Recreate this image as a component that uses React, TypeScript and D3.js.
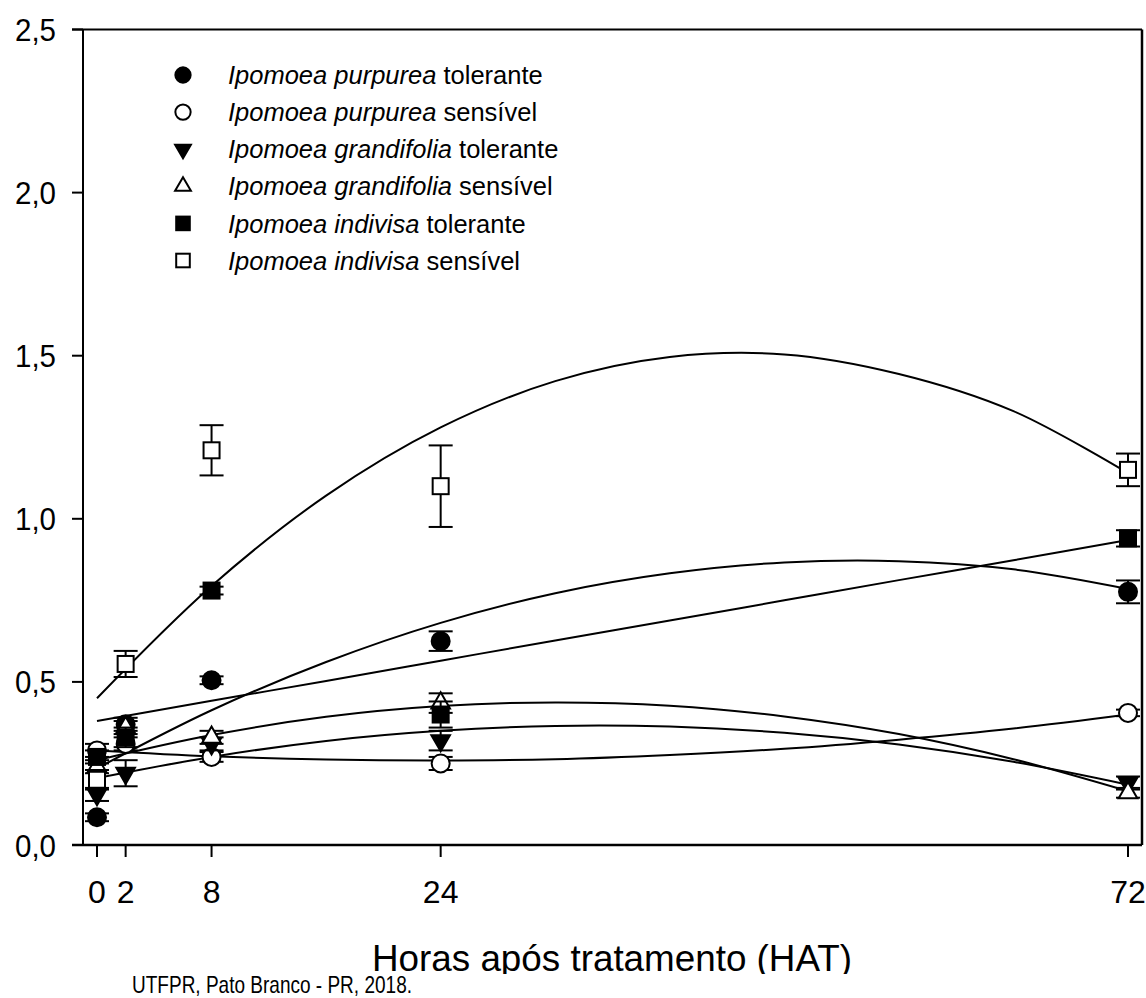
import React from 'react';
import * as d3 from 'd3';

const hours = [0, 2, 8, 24, 72];

const purpureaTol = [0.085, 0.37, 0.505, 0.625, 0.776];
const purpureaTolErr = [0.012, 0.02, 0.012, 0.03, 0.035];
const purpureaSens = [0.29, 0.31, 0.27, 0.25, 0.405];
const purpureaSensErr = [0.02, 0.02, 0.015, 0.02, 0.01];
const grandifoliaTol = [0.155, 0.22, 0.31, 0.32, 0.19];
const grandifoliaTolErr = [0.02, 0.04, 0.02, 0.03, 0.02];
const grandifoliaSens = [0.24, 0.36, 0.33, 0.435, 0.16];
const grandifoliaSensErr = [0.02, 0.02, 0.02, 0.03, 0.015];
const indivisaTol = [0.27, 0.33, 0.78, 0.40, 0.94];
const indivisaTolErr = [0.02, 0.03, 0.012, 0.04, 0.025];
const indivisaSens = [0.20, 0.555, 1.21, 1.10, 1.15];
const indivisaSensErr = [0.03, 0.04, 0.077, 0.125, 0.05];

// fitted regression curves
const curveHours = [0, 8, 16, 24, 32, 40, 48, 56, 64, 72];
const purpureaTolFit = [0.235, 0.413, 0.561, 0.681, 0.772, 0.833, 0.866, 0.87, 0.845, 0.785];
const purpureaSensFit = [0.29, 0.272, 0.262, 0.259, 0.263, 0.276, 0.295, 0.323, 0.357, 0.40];
const grandifoliaTolFit = [0.205, 0.27, 0.319, 0.35, 0.365, 0.363, 0.344, 0.308, 0.255, 0.185];
const grandifoliaSensFit = [0.26, 0.337, 0.393, 0.426, 0.437, 0.427, 0.394, 0.34, 0.263, 0.165];
const indivisaTolFit = [0.38, 0.442, 0.503, 0.565, 0.627, 0.688, 0.75, 0.812, 0.873, 0.935];
const indivisaSensFit = [0.45, 0.794, 1.071, 1.28, 1.422, 1.496, 1.504, 1.444, 1.33, 1.14];

const yTicks = [0, 0.5, 1.0, 1.5, 2.0, 2.5];
const xTicks = [0, 2, 8, 24, 72];

const legendNames = [
  ['Ipomoea purpurea', 'tolerante'],
  ['Ipomoea purpurea', 'sensível'],
  ['Ipomoea grandifolia', 'tolerante'],
  ['Ipomoea grandifolia', 'sensível'],
  ['Ipomoea indivisa', 'tolerante'],
  ['Ipomoea indivisa', 'sensível'],
];

const series = [
  { vals: purpureaTol, err: purpureaTolErr, fit: purpureaTolFit, shape: 'circle', filled: true },
  { vals: purpureaSens, err: purpureaSensErr, fit: purpureaSensFit, shape: 'circle', filled: false },
  { vals: grandifoliaTol, err: grandifoliaTolErr, fit: grandifoliaTolFit, shape: 'triDown', filled: true },
  { vals: grandifoliaSens, err: grandifoliaSensErr, fit: grandifoliaSensFit, shape: 'triUp', filled: false },
  { vals: indivisaTol, err: indivisaTolErr, fit: indivisaTolFit, shape: 'square', filled: true },
  { vals: indivisaSens, err: indivisaSensErr, fit: indivisaSensFit, shape: 'square', filled: false },
];

const FONT = '"Liberation Sans", Arial, sans-serif';

const Marker = ({ shape, filled, x, y, s = 1 }) => {
  const fill = filled ? '#000' : '#fff';
  const common = { fill, stroke: '#000', strokeWidth: 2 };
  if (shape === 'circle') return <circle cx={x} cy={y} r={9 * s} {...common} />;
  if (shape === 'square') return <rect x={x - 8 * s} y={y - 8 * s} width={16 * s} height={16 * s} {...common} />;
  const tri = d3.symbol().type(d3.symbolTriangle).size(150 * s * s)();
  return (
    <path d={tri} transform={`translate(${x},${y}) rotate(${shape === 'triDown' ? 180 : 0})`} {...common} />
  );
};

export default function App() {
  const x = d3.scaleLinear().domain([0, 72]).range([97, 1128]);
  const y = d3.scaleLinear().domain([0, 2.5]).range([845, 29.5]);
  const line = d3.line<[number, number]>()
    .x(d => x(d[0]))
    .y(d => y(d[1]))
    .curve(d3.curveCatmullRom);

  const left = 83;
  const right = 1142;
  const capW = 12;

  return (
    <svg width={1146} height={998} style={{ position: 'absolute', left: 0, top: 0, background: '#fff' }}
      fontFamily={FONT}>
      <rect width={1146} height={998} fill="#fff" />
      {/* frame */}
      <line x1={72} x2={right} y1={y(2.5)} y2={y(2.5)} stroke="#000" strokeWidth={2} />
      <line x1={right} x2={right} y1={y(2.5)} y2={y(0)} stroke="#000" strokeWidth={2.5} />
      <line x1={left} x2={left} y1={y(2.5)} y2={y(0)} stroke="#000" strokeWidth={2} />
      <line x1={72} x2={right} y1={y(0)} y2={y(0)} stroke="#000" strokeWidth={2.5} />

      {yTicks.map(t => (
        <g key={t}>
          <line x1={72} x2={left} y1={y(t)} y2={y(t)} stroke="#000" strokeWidth={2} />
          <text x={56} y={y(t)} dy="0.36em" textAnchor="end" fontSize={32}
            textLength={41} lengthAdjust="spacingAndGlyphs">
            {d3.format('.1f')(t).replace('.', ',')}
          </text>
        </g>
      ))}
      {xTicks.map(t => (
        <g key={t}>
          <line x1={x(t)} x2={x(t)} y1={y(0)} y2={y(0) + 12} stroke="#000" strokeWidth={2} />
          <text x={x(t)} y={903} textAnchor="middle" fontSize={32}>{t}</text>
        </g>
      ))}

      <text x={612} y={971} textAnchor="middle" fontSize={37}
        textLength={480} lengthAdjust="spacingAndGlyphs">Horas após tratamento (HAT)</text>
      <rect x={0} y={974} width={1146} height={24} fill="#fff" />
      <text x={132} y={993} fontSize={24} textLength={280} lengthAdjust="spacingAndGlyphs">
        UTFPR, Pato Branco - PR, 2018.
      </text>

      {/* regression curves */}
      {series.map((s, i) => (
        <path key={'fit' + i} d={line(curveHours.map((h, j) => [h, s.fit[j]]))}
          fill="none" stroke="#000" strokeWidth={2} />
      ))}

      {/* error bars and points */}
      {series.map((s, i) => (
        <g key={'pts' + i}>
          {hours.map((h, j) => {
            const cx = x(h);
            const hi = y(s.vals[j] + s.err[j]);
            const lo = y(s.vals[j] - s.err[j]);
            return (
              <g key={j}>
                <line x1={cx} x2={cx} y1={hi} y2={lo} stroke="#000" strokeWidth={2} />
                <line x1={cx - capW} x2={cx + capW} y1={hi} y2={hi} stroke="#000" strokeWidth={2} />
                <line x1={cx - capW} x2={cx + capW} y1={lo} y2={lo} stroke="#000" strokeWidth={2} />
                <Marker shape={s.shape} filled={s.filled} x={cx} y={y(s.vals[j])} />
              </g>
            );
          })}
        </g>
      ))}

      {/* legend */}
      {series.map((s, i) => {
        const ly = 75 + i * 37.1;
        return (
          <g key={'leg' + i}>
            <Marker shape={s.shape} filled={s.filled} x={183} y={ly} s={0.85} />
            <text x={228} y={ly} dy="0.36em" fontSize={25.5}>
              <tspan fontStyle="italic">{legendNames[i][0]}</tspan>
              <tspan> {legendNames[i][1]}</tspan>
            </text>
          </g>
        );
      })}
    </svg>
  );
}
